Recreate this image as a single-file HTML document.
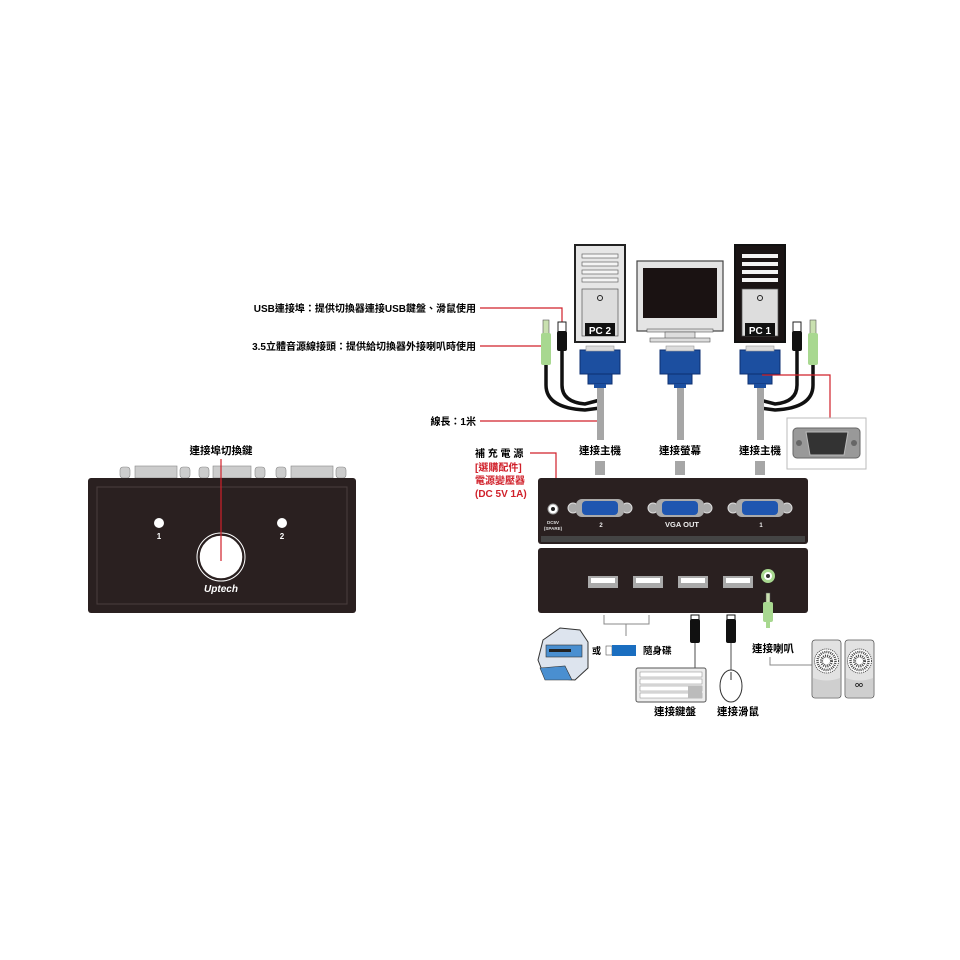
<!DOCTYPE html>
<html><head><meta charset="utf-8"><style>
html,body{margin:0;padding:0;background:#fff}
svg{display:block}
text{font-family:"Liberation Sans","Noto Sans CJK TC",sans-serif;font-weight:bold}
</style></head><body>
<svg width="960" height="960" viewBox="0 0 960 960" xmlns="http://www.w3.org/2000/svg">
<defs>
<g id="vga">
<rect x="-20" y="0" width="40" height="24" fill="#1c4fa0" stroke="#0d2f70"/>
<rect x="-14" y="-4" width="28" height="5" fill="#ddd" stroke="#999" stroke-width=".6"/>
<rect x="-12" y="24" width="24" height="10" fill="#1c4fa0" stroke="#0d2f70"/>
<rect x="-6" y="34" width="12" height="4" fill="#1c4fa0"/>
</g>
<g id="pport">
<circle cx="-27" cy="0" r="5" fill="#aaa" stroke="#ddd"/>
<circle cx="27" cy="0" r="5" fill="#aaa" stroke="#ddd"/>
<rect x="-24" y="-9" width="48" height="18" rx="6" fill="#aaa"/>
<rect x="-18" y="-7" width="36" height="14" rx="4" fill="#1f56b0"/>
</g>
<g id="spk">
<rect x="0" y="0" width="29" height="58" rx="3" fill="#e2e2e2" stroke="#555" stroke-width=".8"/>
<path d="M1 38 Q14.5 43 28 38 L28 55 Q28 57 26 57 L3 57 Q1 57 1 55Z" fill="#cfcfcf"/>
<circle cx="14.5" cy="21" r="12" fill="#fff" stroke="#444" stroke-width="1" stroke-dasharray="1 1"/>
<circle cx="14.5" cy="21" r="9" fill="none" stroke="#444" stroke-width="2.5" stroke-dasharray="1 1"/>
<circle cx="14.5" cy="21" r="5" fill="none" stroke="#444" stroke-width="3" stroke-dasharray="1 1"/>
</g>
</defs>

<!-- top labels -->
<text x="476" y="312" font-size="10" text-anchor="end">USB連接埠：提供切換器連接USB鍵盤、滑鼠使用</text>
<text x="476" y="350" font-size="10" text-anchor="end">3.5立體音源線接頭：提供給切換器外接喇叭時使用</text>
<text x="476" y="425" font-size="10" text-anchor="end">線長：1米</text>
<polyline points="480,308 562,308 562,322" fill="none" stroke="#d0202a" stroke-width="1.2"/>
<line x1="480" y1="346" x2="544" y2="346" stroke="#d0202a" stroke-width="1.2"/>
<line x1="480" y1="421" x2="598" y2="421" stroke="#d0202a" stroke-width="1.2"/>

<!-- PC2 -->
<rect x="575" y="245" width="50" height="97" fill="#e6e6e6" stroke="#222" stroke-width="2"/>
<g fill="#f4f4f4" stroke="#666" stroke-width=".7">
<rect x="582" y="254" width="36" height="4"/><rect x="582" y="262" width="36" height="4"/><rect x="582" y="270" width="36" height="4"/><rect x="582" y="278" width="36" height="4"/></g>
<rect x="582" y="289" width="36" height="47" fill="#ddd" stroke="#555" stroke-width=".7"/>
<circle cx="600" cy="298" r="2.5" fill="none" stroke="#222"/>
<rect x="585" y="323" width="30" height="13" fill="#111"/>
<text x="600" y="334" font-size="10" fill="#fff" text-anchor="middle">PC 2</text>
<!-- monitor -->
<rect x="637" y="261" width="86" height="70" fill="#e4e4e4" stroke="#444" stroke-width="1.2"/>
<rect x="643" y="268" width="74" height="50" fill="#1a1212"/>
<rect x="647" y="329" width="66" height="3" fill="#ddd" stroke="#555" stroke-width=".6"/>
<rect x="665" y="332" width="30" height="7" fill="#ddd" stroke="#555" stroke-width=".6"/>
<rect x="650" y="338" width="60" height="4" fill="#ddd" stroke="#555" stroke-width=".6"/>
<!-- PC1 -->
<rect x="735" y="245" width="50" height="97" fill="#1a1414" stroke="#111" stroke-width="2"/>
<g fill="#f4f4f4"><rect x="742" y="254" width="36" height="4"/><rect x="742" y="262" width="36" height="4"/><rect x="742" y="270" width="36" height="4"/><rect x="742" y="278" width="36" height="4"/></g>
<rect x="742" y="289" width="36" height="47" fill="#ddd" stroke="#555" stroke-width=".7"/>
<circle cx="760" cy="298" r="2.5" fill="none" stroke="#222"/>
<rect x="745" y="323" width="30" height="13" fill="#111"/>
<text x="760" y="334" font-size="10" fill="#fff" text-anchor="middle">PC 1</text>

<!-- cables PC2 -->
<path d="M546 365 L546 385 Q546 408 585 410 L600 408" fill="none" stroke="#111" stroke-width="3.5"/>
<path d="M562 350 L562 385 Q562 402 585 404 L600 400" fill="none" stroke="#111" stroke-width="3.5"/>
<rect x="543" y="320" width="6" height="14" fill="#c9e0b0" stroke="#555" stroke-width=".6"/>
<rect x="541" y="333" width="10" height="32" rx="2" fill="#a8d890"/>
<rect x="558" y="322" width="8" height="10" fill="#fff" stroke="#222"/>
<rect x="557" y="331" width="10" height="20" rx="2" fill="#111"/>
<!-- cables PC1 -->
<path d="M813 365 L813 385 Q813 408 775 410 L760 408" fill="none" stroke="#111" stroke-width="3.5"/>
<path d="M797 350 L797 385 Q797 402 775 404 L760 400" fill="none" stroke="#111" stroke-width="3.5"/>
<rect x="810" y="320" width="6" height="14" fill="#c9e0b0" stroke="#555" stroke-width=".6"/>
<rect x="808" y="333" width="10" height="32" rx="2" fill="#a8d890"/>
<rect x="793" y="322" width="8" height="10" fill="#fff" stroke="#222"/>
<rect x="792" y="331" width="10" height="20" rx="2" fill="#111"/>

<!-- gray cables -->
<g fill="#a6a6a6">
<rect x="597" y="385" width="7" height="55"/><rect x="677" y="385" width="7" height="55"/><rect x="757" y="385" width="7" height="55"/>
<rect x="595" y="461" width="10" height="14"/><rect x="675" y="461" width="10" height="14"/><rect x="755" y="461" width="10" height="14"/>
</g>
<use href="#vga" x="600" y="350"/><use href="#vga" x="680" y="350"/><use href="#vga" x="760" y="350"/>
<text x="600" y="454" font-size="10.5" text-anchor="middle">連接主機</text>
<text x="680" y="454" font-size="10.5" text-anchor="middle">連接螢幕</text>
<text x="760" y="454" font-size="10.5" text-anchor="middle">連接主機</text>

<!-- DB15 photo -->
<polyline points="762,375 830,375 830,418" fill="none" stroke="#d0202a" stroke-width="1.2"/>
<rect x="787" y="418" width="79" height="51" fill="#fff" stroke="#bbb"/>
<rect x="793" y="428" width="67" height="30" rx="4" fill="#999" stroke="#666"/>
<circle cx="799" cy="443" r="3" fill="#666"/><circle cx="854" cy="443" r="3" fill="#666"/>
<path d="M806 432 L848 432 L844 455 L810 455Z" fill="#333" stroke="#bbb"/>

<!-- power labels -->
<text x="475" y="457" font-size="10">補 充 電 源</text>
<text x="475" y="471" font-size="10" fill="#d0202a">[選購配件]</text>
<text x="475" y="484" font-size="10" fill="#d0202a">電源變壓器</text>
<text x="475" y="497" font-size="10" fill="#d0202a">(DC 5V 1A)</text>
<polyline points="530,453 556,453 556,500" fill="none" stroke="#d0202a" stroke-width="1.2"/>

<!-- back panel -->
<rect x="538" y="478" width="270" height="66" rx="3" fill="#2a2020"/>
<rect x="541" y="536" width="264" height="6" fill="#444"/>
<circle cx="553" cy="509" r="5" fill="#fff" stroke="#999"/><circle cx="553" cy="509" r="2" fill="#222"/>
<text x="553" y="524" font-size="4.5" fill="#ddd" text-anchor="middle">DC5V</text>
<text x="553" y="530" font-size="4.5" fill="#ddd" text-anchor="middle">(SPARE)</text>
<use href="#pport" x="600" y="508"/><use href="#pport" x="680" y="508"/><use href="#pport" x="760" y="508"/>
<text x="601" y="527" font-size="6" fill="#eee" text-anchor="middle">2</text>
<text x="682" y="527" font-size="7.5" fill="#eee" text-anchor="middle">VGA OUT</text>
<text x="761" y="527" font-size="6" fill="#eee" text-anchor="middle">1</text>

<!-- front panel -->
<rect x="538" y="548" width="270" height="65" rx="3" fill="#2a2020"/>
<g><rect x="588" y="576" width="30" height="12" fill="#aaa"/><rect x="591" y="578" width="24" height="5" fill="#fff"/>
<rect x="633" y="576" width="30" height="12" fill="#aaa"/><rect x="636" y="578" width="24" height="5" fill="#fff"/>
<rect x="678" y="576" width="30" height="12" fill="#aaa"/><rect x="681" y="578" width="24" height="5" fill="#fff"/>
<rect x="723" y="576" width="30" height="12" fill="#aaa"/><rect x="726" y="578" width="24" height="5" fill="#fff"/></g>
<circle cx="768" cy="576" r="7" fill="#a8d890"/><circle cx="768" cy="576" r="4" fill="#fff"/><circle cx="768" cy="576" r="2" fill="#333"/>
<rect x="766" y="593" width="4" height="10" fill="#c9e0b0" stroke="#555" stroke-width=".5"/>
<rect x="763" y="602" width="10" height="20" rx="2" fill="#a8d890"/>
<rect x="766" y="620" width="4" height="8" fill="#a8d890"/>

<!-- bottom -->
<polyline points="604,615 604,624 649,624 649,615" fill="none" stroke="#888" stroke-width="1"/>
<line x1="626" y1="624" x2="626" y2="636" stroke="#888"/>
<path d="M543 640 L560 628 L580 630 L588 642 L588 668 L575 680 L545 678 L538 660Z" fill="#dde4ee" stroke="#333" stroke-width="1"/>
<rect x="546" y="645" width="36" height="12" fill="#4a8fd0" stroke="#333" stroke-width=".6"/>
<rect x="549" y="649" width="22" height="3" fill="#222"/>
<path d="M540 668 L565 666 L572 680 L545 680Z" fill="#4a8fd0" stroke="#333" stroke-width=".6"/>
<text x="592" y="654" font-size="9">或</text>
<rect x="606" y="646" width="6" height="9" fill="#fff" stroke="#555" stroke-width=".6"/>
<rect x="612" y="645" width="24" height="11" fill="#1a6ec0"/>
<text x="643" y="654" font-size="9.5">隨身碟</text>
<rect x="691" y="615" width="8" height="5" fill="#fff" stroke="#111"/>
<rect x="690" y="619" width="10" height="24" rx="2" fill="#111"/>
<line x1="695" y1="643" x2="695" y2="668" stroke="#888" stroke-width="1.5"/>
<rect x="727" y="615" width="8" height="5" fill="#fff" stroke="#111"/>
<rect x="726" y="619" width="10" height="24" rx="2" fill="#111"/>
<line x1="731" y1="643" x2="731" y2="670" stroke="#888" stroke-width="1.5"/>
<rect x="636" y="668" width="70" height="34" rx="2" fill="#eee" stroke="#555"/>
<g fill="#fff" stroke="#888" stroke-width=".5">
<rect x="640" y="672" width="62" height="5"/><rect x="640" y="679" width="62" height="5"/><rect x="640" y="686" width="62" height="5"/><rect x="640" y="693" width="62" height="5"/></g>
<rect x="688" y="686" width="14" height="12" fill="#bbb"/>
<ellipse cx="731" cy="686" rx="11" ry="16" fill="#fff" stroke="#333"/>
<line x1="731" y1="672" x2="731" y2="680" stroke="#333"/>
<text x="675" y="715" font-size="10.5" text-anchor="middle">連接鍵盤</text>
<text x="738" y="715" font-size="10.5" text-anchor="middle">連接滑鼠</text>
<text x="773" y="652" font-size="10.5" text-anchor="middle">連接喇叭</text>
<polyline points="770,657 770,665 813,665" fill="none" stroke="#888" stroke-width="1"/>
<use href="#spk" x="812" y="640"/><use href="#spk" x="845" y="640"/>
<text x="859" y="687" font-size="5" font-weight="normal" text-anchor="middle">OO</text>

<!-- left switch -->
<text x="221" y="454" font-size="10.5" text-anchor="middle">連接埠切換鍵</text>
<g fill="#ccc" stroke="#888" stroke-width=".6">
<rect x="120" y="467" width="10" height="11" rx="3"/><rect x="135" y="466" width="42" height="12"/><rect x="180" y="467" width="10" height="11" rx="3"/>
<rect x="199" y="467" width="10" height="11" rx="3"/><rect x="213" y="466" width="38" height="12"/><rect x="255" y="467" width="10" height="11" rx="3"/>
<rect x="276" y="467" width="10" height="11" rx="3"/><rect x="291" y="466" width="42" height="12"/><rect x="336" y="467" width="10" height="11" rx="3"/>
</g>
<rect x="88" y="478" width="268" height="135" rx="3" fill="#2a2020"/>
<rect x="97" y="487" width="250" height="117" fill="none" stroke="#4a3e3e" stroke-width="1"/>
<circle cx="159" cy="523" r="5" fill="#fff"/><circle cx="282" cy="523" r="5" fill="#fff"/>
<text x="159" y="539" font-size="8" fill="#fff" text-anchor="middle">1</text>
<text x="282" y="539" font-size="8" fill="#fff" text-anchor="middle">2</text>
<circle cx="221" cy="557" r="22" fill="#fff" stroke="#2a2020" stroke-width="1.5"/>
<circle cx="221" cy="557" r="24" fill="none" stroke="#fff" stroke-width="1"/>
<text x="221" y="592" font-size="10" font-style="italic" fill="#fff" text-anchor="middle">Uptech</text>
<line x1="221" y1="459" x2="221" y2="561" stroke="#d0202a" stroke-width="1.2"/>
</svg>
</body></html>
